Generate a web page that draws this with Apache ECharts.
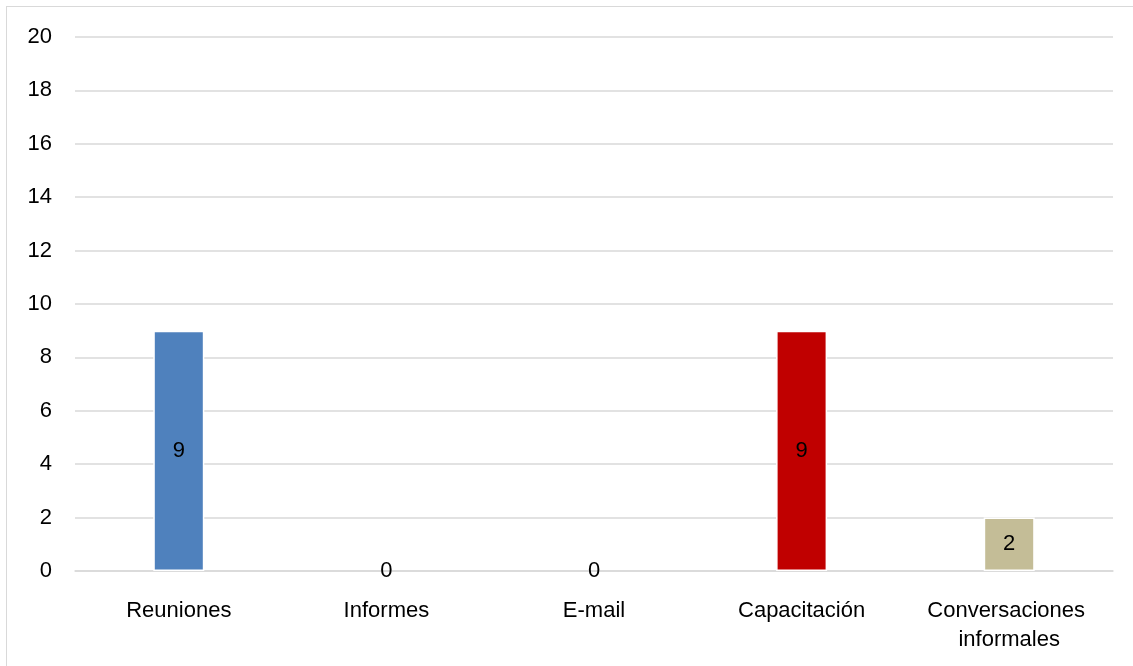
<!DOCTYPE html>
<html>
<head>
<meta charset="utf-8">
<script src="https://cdn.jsdelivr.net/npm/echarts@6/dist/echarts.min.js"></script>
<style>
  html, body { margin: 0; padding: 0; background: #fff; }
  #frame { position: absolute; left: 6px; top: 6px; width: 1133px; height: 666px; border: 1.5px solid #D9D9D9; box-sizing: border-box; }
  #chart { width: 1133px; height: 666px; }
</style>
</head>
<body>
<div id="frame"></div>
<div id="chart"></div>
<script>
// datos
const categories = ['Reuniones', 'Informes', 'E-mail', 'Capacitación', 'Conversaciones informales'];
const values = [9, 0, 0, 9, 2];
const barColors = ['#4F81BD', '#4F81BD', '#4F81BD', '#C00000', '#C4BD97'];

const myChart = echarts.init(document.getElementById('chart'));
myChart.setOption({
  animation: false,
  textStyle: { fontFamily: 'Liberation Sans, Arial, sans-serif' },
  grid: { left: 75, right: 20, top: 37, bottom: 95 },
  xAxis: {
    type: 'category',
    data: categories,
    axisLine: { lineStyle: { color: '#D9D9D9', width: 1.5 } },
    axisTick: { show: false },
    axisLabel: {
      color: '#000', fontSize: 22, margin: 25, lineHeight: 29,
      width: 190, overflow: 'break', interval: 0
    }
  },
  yAxis: {
    type: 'value',
    min: 0, max: 20, interval: 2,
    axisLine: { show: false },
    axisTick: { show: false },
    axisLabel: { color: '#000', fontSize: 22, margin: 23 },
    splitLine: { lineStyle: { color: '#D9D9D9', width: 1.5 } }
  },
  series: [{
    type: 'bar',
    barWidth: 51,
    data: values.map((v, i) => ({
      value: v,
      itemStyle: { color: barColors[i], borderColor: '#fff', borderWidth: v > 0 ? 1.5 : 0 }
    })),
    label: { show: true, position: 'inside', color: '#000', fontSize: 22 }
  }]
});
window.onresize = function () { myChart.resize(); };
</script>
</body>
</html>
